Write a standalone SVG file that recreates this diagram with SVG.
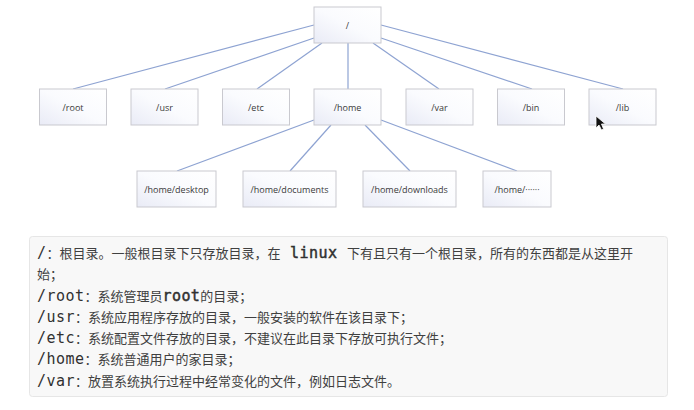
<svg xmlns="http://www.w3.org/2000/svg" width="694" height="410" viewBox="0 0 694 410">
<defs>
<linearGradient id="g" x1="1" y1="0" x2="0" y2="1">
<stop offset="0" stop-color="#ffffff"/>
<stop offset="0.5" stop-color="#fafbfe"/>
<stop offset="1" stop-color="#e9ebf6"/>
</linearGradient>
<style>
.n{fill:url(#g);stroke:#c9c9cf;stroke-width:1}
.l{font-family:"Open Sans","Noto Sans",sans-serif;font-size:9px;fill:#3a3a3a;text-anchor:middle;dominant-baseline:central}
.c{stroke:#8ea3d2;stroke-width:1.2;fill:none}
.t{font-family:"Noto Sans CJK SC","Noto Sans",sans-serif;font-size:13px;fill:#404040}
.m{font-family:"DejaVu Sans Mono","Liberation Mono",monospace;font-size:15px;letter-spacing:0.45px;fill:#303030}
.b{stroke:#303030;stroke-width:0.45}
</style>
</defs>
<rect width="694" height="410" fill="#ffffff"/>
<g id="connectors">
<line class="c" x1="314" y1="25" x2="73" y2="89"/>
<line class="c" x1="314" y1="38" x2="165" y2="89"/>
<line class="c" x1="322" y1="43" x2="257" y2="89"/>
<line class="c" x1="348" y1="43" x2="348" y2="89"/>
<line class="c" x1="373" y1="43" x2="439" y2="89"/>
<line class="c" x1="381" y1="38" x2="532" y2="89"/>
<line class="c" x1="381" y1="25" x2="623" y2="89"/>
<line class="c" x1="314" y1="120" x2="177" y2="171"/>
<line class="c" x1="331" y1="125" x2="290" y2="171"/>
<line class="c" x1="365" y1="125" x2="410" y2="171"/>
<line class="c" x1="381" y1="120" x2="517" y2="171"/>
</g>
<g id="n-root"><rect class="n" x="314" y="7" width="67" height="36"/><text class="l" x="347.5" y="25">/</text></g>
<g id="n-rootdir"><rect class="n" x="39.500" y="89" width="67" height="36"/><text class="l" x="73" y="107">/root</text></g>
<g id="n-usr"><rect class="n" x="131" y="89" width="67" height="36"/><text class="l" x="164.500" y="107">/usr</text></g>
<g id="n-etc"><rect class="n" x="222.500" y="89" width="67" height="36"/><text class="l" x="256" y="107">/etc</text></g>
<g id="n-home"><rect class="n" x="314" y="89" width="67" height="36"/><text class="l" x="347.500" y="107">/home</text></g>
<g id="n-var"><rect class="n" x="406" y="89" width="67" height="36"/><text class="l" x="439.500" y="107">/var</text></g>
<g id="n-bin"><rect class="n" x="497.500" y="89" width="67" height="36"/><text class="l" x="531" y="107">/bin</text></g>
<g id="n-lib"><rect class="n" x="589" y="89" width="67" height="36"/><text class="l" x="622.500" y="107">/lib</text></g>
<g id="n-desktop"><rect class="n" x="137" y="171" width="79" height="36"/><text class="l" x="176.500" y="189">/home/desktop</text></g>
<g id="n-documents"><rect class="n" x="243" y="171" width="93" height="36"/><text class="l" x="289.500" y="189">/home/documents</text></g>
<g id="n-downloads"><rect class="n" x="363" y="171" width="93" height="36"/><text class="l" x="409.500" y="189">/home/downloads</text></g>
<g id="n-more"><rect class="n" x="483" y="171" width="68" height="36"/><text class="l" x="517" y="189">/home/······</text></g>
<g id="desc">
<rect x="29.500" y="236.500" width="638" height="160" rx="3" fill="#f8f8f8" stroke="#e6e6e6"/>
<text class="t" x="37" y="258"><tspan class="m">/</tspan>：根目录。一般根目录下只存放目录，在<tspan class="m b"> linux </tspan>下有且只有一个根目录，所有的东西都是从这里开</text>
<text class="t" x="37" y="279">始；</text>
<text class="t" x="37" y="300.500"><tspan class="m">/root</tspan>：系统管理员<tspan class="m b">root</tspan>的目录；</text>
<text class="t" x="37" y="321.500"><tspan class="m">/usr</tspan>：系统应用程序存放的目录，一般安装的软件在该目录下；</text>
<text class="t" x="37" y="343"><tspan class="m">/etc</tspan>：系统配置文件存放的目录，不建议在此目录下存放可执行文件；</text>
<text class="t" x="37" y="364"><tspan class="m">/home</tspan>：系统普通用户的家目录；</text>
<text class="t" x="37" y="385.500"><tspan class="m">/var</tspan>：放置系统执行过程中经常变化的文件，例如日志文件。</text>
</g>
<path d="M596,116 L596,128 L599,125 L601.500,130 L603.500,129 L601.500,124 L605.500,124 Z" fill="#111" stroke="#fff" stroke-width="0.8"/>
</svg>
